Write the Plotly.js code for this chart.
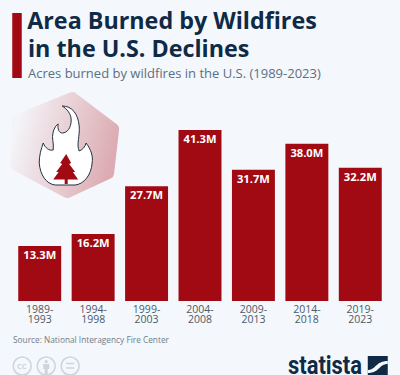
<!DOCTYPE html>
<html><head><meta charset="utf-8">
<script src="https://cdn.plot.ly/plotly-3.0.1.min.js"></script>
<style>html,body{margin:0;padding:0;background:#f4f7fb;overflow:hidden}</style>
</head><body><div id="chart" style="width:400px;height:375px"></div>
<script>
const categories = ["1989-<br>1993","1994-<br>1998","1999-<br>2003","2004-<br>2008","2009-<br>2013","2014-<br>2018","2019-<br>2023"];
const acresBurned = [13.3,16.2,27.7,41.3,31.7,38.0,32.2];
const valueLabels = ["13.3M","16.2M","27.7M","41.3M","31.7M","38.0M","32.2M"];
const titleLines = ["Area Burned by Wildfires","in the U.S. Declines"];
const subtitle = "Acres burned by wildfires in the U.S. (1989-2023)";
const source = "Source: National Interagency Fire Center";

const BG="#f4f7fb", RED="#a20a13", NAVY="#0f2a46", FONT="'Open Sans', sans-serif";
const W=400,H=375,ml=12.75,mr=12.75,mt=100,mb=74;
const pw=W-ml-mr, ph=H-mt-mb;

const decor = `<svg xmlns="http://www.w3.org/2000/svg" width="400" height="375" viewBox="0 0 400 375">
<defs><linearGradient id="g" x1="0" y1="0.35" x2="1" y2="0.6">
<stop offset="0" stop-color="#f4f3f7"/><stop offset="1" stop-color="#dcacb2"/></linearGradient></defs>
<rect x="12" y="13" width="9.5" height="65" fill="${RED}"/>
<path d="M72 98 L113 129 L108 173 L67 192 L16 165 L18 120 Z" fill="url(#g)" stroke="url(#g)" stroke-width="12" stroke-linejoin="round"/>
<path d="M62 106 C72 106 78 114 79 126 C80 136 76 144 79 151 C82 150 85 147 86 143 C91 150 93 156 92 163 C91 175 84 184 75 185 L55 185 C46 184 40 175 39 163 C39 155 41 149 43 143 C45 148 49 151 53 150 C54 143 51 138 53 132 C54 128 56 125 58 124 C57 129 59 133 62 133 C67 133 71 128 71 120 C71 114 67 109 62 106 Z" fill="#fff" stroke="#22303f" stroke-width="1"/>
<path d="M66 154 L71 163 L69 164 L75 172 L72.7 172 L78 179.5 L67.5 179.5 L67.5 184 L64.5 184 L64.5 179.5 L53 179.5 L58.5 172 L56 172 L62 164 L60 163 Z" fill="${RED}"/>
<g fill="none" stroke="#cdd5dd" stroke-width="1.6">
<circle cx="22" cy="366" r="9"/><circle cx="46" cy="366" r="9"/><circle cx="70" cy="366" r="9"/>
<path d="M66 363.5 H74 M66 368 H74"/></g>
<path d="M46 360 a1.6 1.6 0 1 1 -0.01 0 Z M43 364 H49 V369 H47.5 V374 H44.5 V369 H43 Z" fill="#cdd5dd"/>
<rect x="368" y="356" width="20" height="19" fill="${NAVY}"/>
<path d="M368 370 C376 370 376 361 388 361 V364 C379 364 380 373 368 373 Z" fill="${BG}"/>
</svg>`;

function ann(text,x,y,size,color,extra){
  return Object.assign({text,xref:'paper',yref:'paper',x:(x-ml)/pw,y:1-(y-mt)/ph,xanchor:'left',yanchor:'middle',
    showarrow:false,font:{family:FONT,size,color},align:'left',borderpad:0},extra||{});
}

const trace={type:'bar',x:categories,y:acresBurned,text:valueLabels,textposition:'inside',insidetextanchor:'end',
  textangle:0,constraintext:'none',cliponaxis:false,
  insidetextfont:{family:FONT,size:11.2,color:'#ffffff',weight:700},
  marker:{color:RED,line:{width:0}},hoverinfo:'skip'};

const layout={
  width:W,height:H,paper_bgcolor:BG,plot_bgcolor:'rgba(0,0,0,0)',
  margin:{l:ml,r:mr,t:mt,b:mb,pad:0},bargap:0.196,showlegend:false,
  font:{family:FONT},
  title:{text:titleLines[0],xref:'paper',yref:'container',x:(27-ml)/pw,xanchor:'left',y:1-21/H,yanchor:'middle',
    font:{family:FONT,size:23.3,color:NAVY,weight:700},pad:{l:0,r:0,t:0,b:0}},
  xaxis:{type:'category',tickmode:'array',tickvals:categories,ticktext:categories,showline:false,ticks:'',showgrid:false,
    zeroline:false,fixedrange:true,tickangle:0,tickfont:{family:FONT,size:10.5,color:'#4b5a69'},ticklen:0,automargin:false},
  yaxis:{range:[0,ph/4.14],visible:false,fixedrange:true,showgrid:false,zeroline:false},
  images:[{source:'data:image/svg+xml;charset=utf-8,'+encodeURIComponent(decor),xref:'paper',yref:'paper',
    x:-ml/pw,y:1+mt/ph,sizex:W/pw,sizey:H/ph,sizing:'stretch',xanchor:'left',yanchor:'top',layer:'below'}],
  annotations:[
    ann(titleLines[1],27,47.5,23.3,NAVY,{font:{family:FONT,size:23.3,color:NAVY,weight:700}}),
    ann(subtitle,27,73.5,13,"#5b7083"),
    ann(source,12,339,8.3,"#6f7d8b"),
    ann("CC",22,366,7.5,"#cdd5dd",{xanchor:'center',font:{family:FONT,size:7.5,color:"#cdd5dd",weight:700}}),
    ann("statista",287.5,365,26,NAVY,{font:{family:"Roboto, sans-serif",size:26,color:NAVY,weight:700}})
  ]
};
Plotly.newPlot('chart',[trace],layout,{displayModeBar:false,staticPlot:true}).then(()=>{
  document.querySelectorAll('.xtick text tspan.line').forEach(t=>{ if(parseFloat(t.getAttribute('dy'))>0) t.setAttribute('dy','1.03em'); });
  document.querySelectorAll('.barlayer text').forEach(t=>{ t.setAttribute('transform','translate(0,-2) '+(t.getAttribute('transform')||'')); });
  document.querySelectorAll('.annotation-text').forEach(t=>{ if(t.textContent==='statista'){ t.setAttribute('textLength','74'); t.setAttribute('lengthAdjust','spacingAndGlyphs'); } });
});
</script></body></html>
